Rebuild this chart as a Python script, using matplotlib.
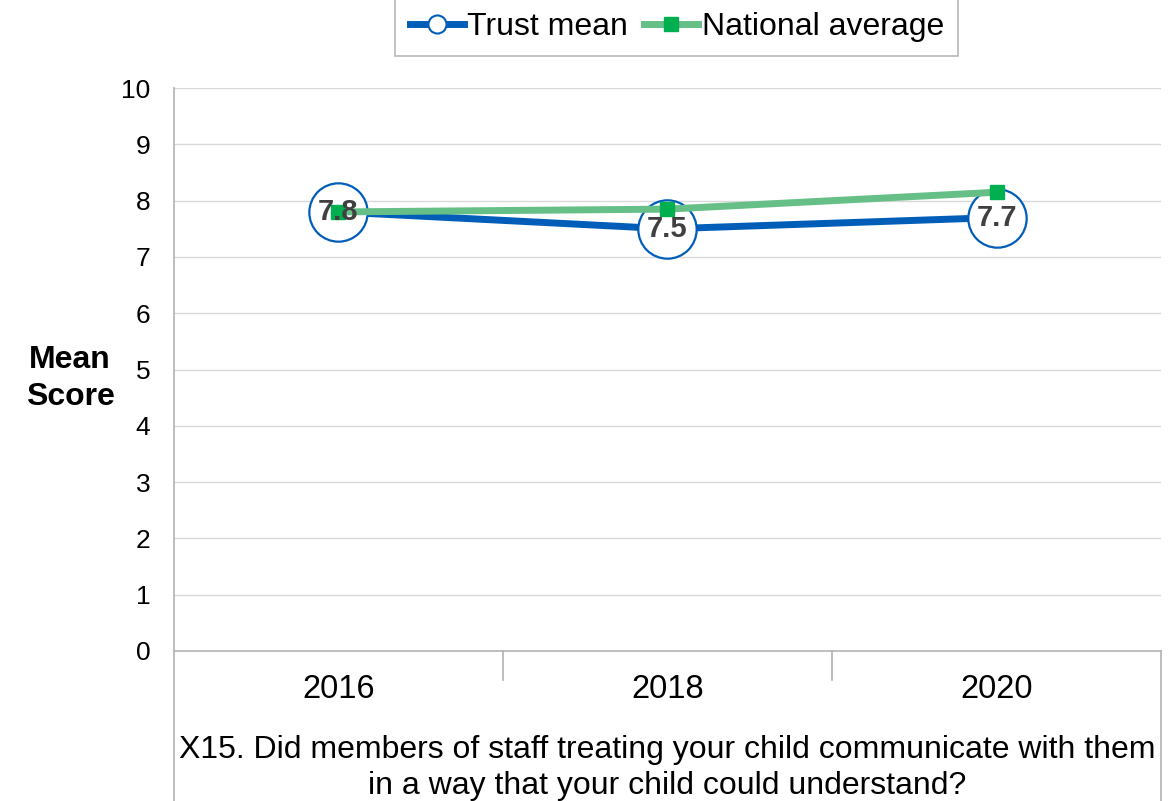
import matplotlib
matplotlib.use("Agg")
import matplotlib.pyplot as plt
from matplotlib.lines import Line2D

# ---------------------------------------------------------------------------
# Data
# ---------------------------------------------------------------------------
years = ["2016", "2018", "2020"]
trust_mean = [7.8, 7.5, 7.7]
national_average = [7.8, 7.85, 8.15]
question = ("X15. Did members of staff treating your child communicate with them\n"
            "in a way that your child could understand?")

BLUE = "#005EB8"
GREEN_LINE = "#66BF86"
GREEN_MARK = "#00B050"
GRID = "#D9D9D9"
AXIS = "#B3B3B3"

plt.rcParams["font.family"] = ["Liberation Sans", "DejaVu Sans"]

fig = plt.figure(figsize=(11.73, 8.01), dpi=100)
ax = fig.add_axes([0.1483, 0.1873, 0.8415, 0.7027])

x = list(range(len(years)))

ax.plot(x, trust_mean, color=BLUE, lw=5, zorder=3, solid_capstyle="butt")
ax.plot(x, trust_mean, ls="none", marker="o", ms=42, mfc="white",
        mec=BLUE, mew=1.6, zorder=4)
ax.plot(x, national_average, color=GREEN_LINE, lw=5, marker="s", ms=10,
        mfc=GREEN_MARK, mec=GREEN_MARK, zorder=5, solid_capstyle="butt")

for xi, v in zip(x, trust_mean):
    ax.text(xi, v, f"{v:.1f}", ha="center", va="center", fontsize=21,
            fontweight="bold", color="#404040", zorder=6)

ax.set_xlim(-0.5, len(years) - 0.5)
ax.set_ylim(0, 10)
ax.set_yticks(range(0, 11))
ax.tick_params(axis="y", labelsize=19, length=0, pad=17)
ax.set_xticks([])
ax.yaxis.grid(True, color=GRID, lw=1)
ax.set_axisbelow(True)

for s in ["top", "right"]:
    ax.spines[s].set_visible(False)
ax.spines["left"].set_visible(False)
ax.spines["bottom"].set_color(AXIS)
ax.spines["bottom"].set_linewidth(1.2)

# left axis line running down through the category box
xt = ax.get_xaxis_transform()
ax.plot([-0.5, -0.5], [1.0, -0.27], color=AXIS, lw=1.2, transform=xt,
        clip_on=False, zorder=2)
ax.plot([len(years) - 0.5] * 2, [0.0, -0.27], color=AXIS, lw=1.2,
        transform=xt, clip_on=False, zorder=2)
for d in [0.5, 1.5]:
    ax.plot([d, d], [0.0, -0.052], color=AXIS, lw=1.2, transform=xt,
            clip_on=False)

for xi, yr in zip(x, years):
    ax.text(xi, -0.069, yr, transform=xt, ha="center", va="center",
            fontsize=23.5)

ax.text(0.5, -0.208, question, transform=ax.transAxes, ha="center",
        va="center", fontsize=23, linespacing=1.3)

fig.text(0.0597, 0.527, "Mean\nScore", ha="center", va="center",
         fontsize=23, fontweight="bold", linespacing=1.3)

handles = [
    Line2D([], [], color=BLUE, lw=5, marker="o", ms=13, mfc="white",
           mec=BLUE, mew=1.5),
    Line2D([], [], color=GREEN_LINE, lw=5, marker="s", ms=10,
           mfc=GREEN_MARK, mec=GREEN_MARK),
]
leg = fig.legend(handles, ["Trust mean", "National average"], ncol=2,
                 loc="upper center", bbox_to_anchor=(0.577, 1.003),
                 fontsize=23, frameon=True, fancybox=False,
                 handlelength=1.7, handletextpad=0.1, columnspacing=0.5,
                 borderpad=0.45, borderaxespad=0)
leg.get_frame().set_edgecolor("#A6A6A6")
leg.get_frame().set_linewidth(1.2)

fig.savefig("out.png", dpi=100)
